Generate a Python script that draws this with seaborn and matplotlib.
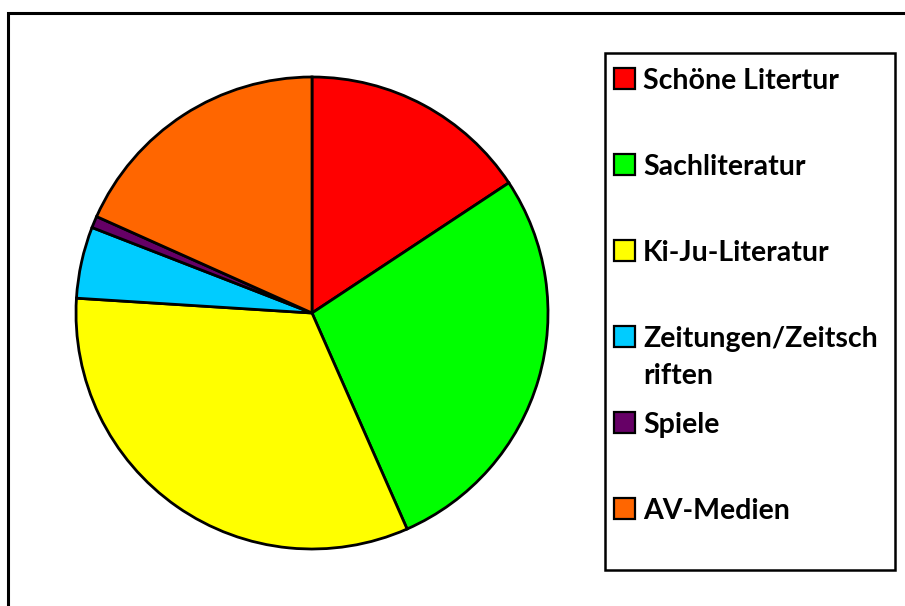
import textwrap
import matplotlib
matplotlib.use('Agg')
import matplotlib.pyplot as plt
from matplotlib.patches import Rectangle
import seaborn as sns

sns.set_theme(style='white')
plt.rcParams['font.family'] = ['Lato', 'DejaVu Sans']

# Data (shares in percent)
categories = ['Schöne Litertur', 'Sachliteratur', 'Ki-Ju-Literatur',
              'Zeitungen/Zeitschriften', 'Spiele', 'AV-Medien']
shares = [15.7, 27.7, 32.6, 4.9, 0.8, 18.3]
colors = ['#FF0000', '#00FF00', '#FFFF00', '#00CCFF', '#660066', '#FF6600']

W, H = 905, 606
fig = plt.figure(figsize=(W / 100, H / 100), dpi=100)
fig.patch.set_facecolor('white')


def fx(px):
    return px / W


def fy(py):
    return 1 - py / H


# outer chart frame
fig.patches.append(Rectangle((fx(8), fy(620)), fx(920) - fx(8), fy(13) - fy(620),
                             transform=fig.transFigure, fill=False,
                             edgecolor='black', linewidth=2.2))

# pie
cx, cy, r = 312, 313, 236
ax = fig.add_axes([fx(cx - r), fy(cy + r), fx(2 * r), (2 * r) / H])
ax.pie(shares, colors=colors, startangle=90, counterclock=False,
       wedgeprops=dict(edgecolor='black', linewidth=2.0))
ax.set_xlim(-1.0, 1.0)
ax.set_ylim(-1.0, 1.0)
ax.set_aspect('equal')
ax.axis('off')

# legend box
fig.patches.append(Rectangle((fx(605), fy(570)), fx(895) - fx(605), fy(53) - fy(570),
                             transform=fig.transFigure, fill=False,
                             edgecolor='black', linewidth=1.8))

row0, step, line_gap = 89, 86, 37
for i, (label, col) in enumerate(zip(categories, colors)):
    base = row0 + i * step
    fig.patches.append(Rectangle((fx(614), fy(base)), fx(21), 21 / H,
                                 transform=fig.transFigure, facecolor=col,
                                 edgecolor='black', linewidth=1.6))
    lines = textwrap.wrap(label, width=17, break_on_hyphens=False)
    for k, line in enumerate(lines):
        fig.text(fx(643), fy(base + k * line_gap), line, fontsize=20.5,
                 fontweight='bold', color='black', ha='left', va='baseline')

fig.savefig('out.png', dpi=100)
